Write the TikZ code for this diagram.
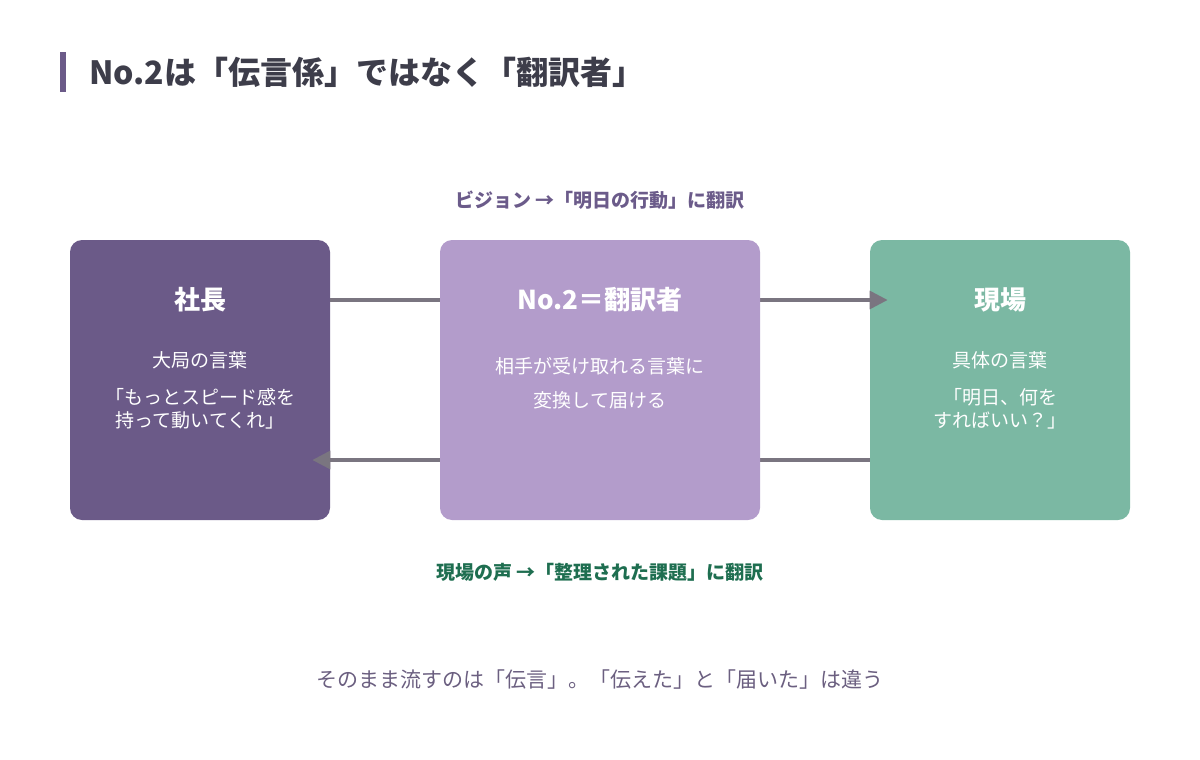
\documentclass[tikz,border=0pt]{standalone}
\usepackage{fontspec}
\setmainfont{Noto Sans CJK JP}
\usetikzlibrary{arrows.meta,positioning}
\definecolor{titlegray}{HTML}{3D3D4A}
\definecolor{bossviolet}{HTML}{6B5A88}
\definecolor{midlilac}{HTML}{B39CCB}
\definecolor{fieldgreen}{HTML}{7BB8A3}
\definecolor{arrowgray}{HTML}{7A7580}
\definecolor{labelviolet}{HTML}{6B5B8A}
\definecolor{labelgreen}{HTML}{1E6E50}
\definecolor{footviolet}{HTML}{6B5F80}
\begin{document}
\begin{tikzpicture}[
    x=0.5pt, y=-0.5pt,
    box/.style={rounded corners=6pt, inner sep=0pt, minimum height=140pt},
    boxtitle/.style={text=white, font=\bfseries\fontsize{13}{15}\selectfont},
    boxbody/.style={text=white, align=center, font=\fontsize{9.5}{11.5}\selectfont},
    flow/.style={arrowgray, line width=1.6pt, -{Triangle[length=9pt, width=9pt]}}
]
\useasboundingbox (0,0) rectangle (1200,760);
% title
\fill[bossviolet] (60,52) rectangle (66,92);
\node[anchor=west, text=titlegray, font=\bfseries\fontsize{16}{18}\selectfont] (title) at (82,72) {No.2は「伝言係」ではなく「翻訳者」};

% boxes
\node[box, fill=bossviolet, minimum width=130pt] (shacho) at (200,380) {};
\node[box, fill=fieldgreen, minimum width=130pt] (genba) at (1000,380) {};

% arrows
\draw[flow] ([yshift=40pt]shacho.east) -- ([xshift=9pt, yshift=40pt]genba.west);
\draw[flow] ([yshift=-40pt]genba.west) -- ([xshift=-9pt, yshift=-40pt]shacho.east);

\node[box, fill=midlilac, minimum width=160pt] (hon) at (600,380) {};

% box texts
\node[boxtitle] (shachoT) at (200,300) {社長};
\node[boxbody] (shachoA) at (200,360) {大局の言葉};
\node[boxbody] (shachoB) at (200,409) {「もっとスピード感を\\持って動いてくれ」};
\node[boxtitle] (honT) at (600,300) {No.2＝翻訳者};
\node[boxbody, font=\fontsize{9.5}{17}\selectfont] (honA) at (600,383) {相手が受け取れる言葉に\\変換して届ける};
\node[boxtitle] (genbaT) at (1000,300) {現場};
\node[boxbody] (genbaA) at (1000,360) {具体の言葉};
\node[boxbody] (genbaB) at (1000,409) {「明日、何を\\すればいい？」};

% labels
\node[text=labelviolet, font=\bfseries\fontsize{9.5}{11}\selectfont] (toplabel) at (600,200) {ビジョン →「明日の行動」に翻訳};
\node[text=labelgreen, font=\bfseries\fontsize{9.5}{11}\selectfont] (botlabel) at (600,572) {現場の声 →「整理された課題」に翻訳};
\node[text=footviolet, font=\fontsize{10.5}{12}\selectfont] (foot) at (600,680) {そのまま流すのは「伝言」。「伝えた」と「届いた」は違う};
\end{tikzpicture}
\end{document}
